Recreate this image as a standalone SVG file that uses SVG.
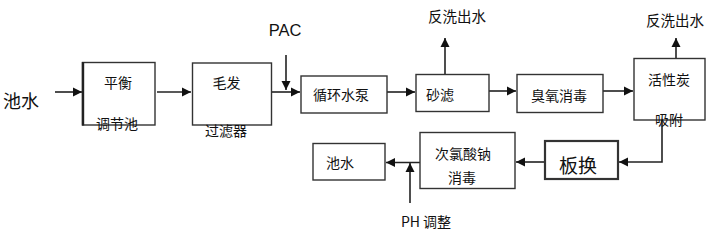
<svg xmlns="http://www.w3.org/2000/svg" width="711" height="230" viewBox="0 0 711 230">
<style>
.box{fill:#fff;stroke:#333;stroke-width:1.4}
.t{font-family:"Noto Sans CJK SC","Noto Sans",sans-serif;font-size:14px;fill:#111;text-anchor:middle;dominant-baseline:central}
.c{fill:none;stroke:#222;stroke-width:1.6}
</style>
<defs>
<marker id="ah" markerUnits="userSpaceOnUse" markerWidth="10" markerHeight="10" refX="9" refY="5" orient="auto">
<path d="M0,0.5 L9,5 L0,9.5 z" fill="#111"/>
</marker>
</defs>
<rect width="711" height="230" fill="#fff"/>
<text class="t" x="21" y="100" style="font-size:18px">池水</text>
<text class="t" x="285" y="30" style="font-family:'Liberation Sans',Arial,sans-serif;font-size:16.5px">PAC</text>
<text class="t" x="457" y="15" style="font-size:14.5px">反洗出水</text>
<text class="t" x="675" y="19" style="font-size:14.5px">反洗出水</text>
<text class="t" x="426" y="221" style="font-size:14px">PH 调整</text>
<g id="connectors">
<path class="c" d="M55,92 L82,92" marker-end="url(#ah)"/>
<path class="c" d="M157,92 L191,92" marker-end="url(#ah)"/>
<path class="c" d="M272,92 L300,92" marker-end="url(#ah)"/>
<path class="c" d="M286,55 L286,90" marker-end="url(#ah)"/>
<path class="c" d="M387,92 L415,92" marker-end="url(#ah)"/>
<path class="c" d="M445,74 L445,38" marker-end="url(#ah)"/>
<path class="c" d="M489,91 L516,91" marker-end="url(#ah)"/>
<path class="c" d="M603,91 L633,91" marker-end="url(#ah)"/>
<path class="c" d="M676,58 L676,38" marker-end="url(#ah)"/>
<path class="c" d="M662,120 L662,162 L619,162" marker-end="url(#ah)"/>
<path class="c" d="M545,162 L516,162" marker-end="url(#ah)"/>
<path class="c" d="M420,162.5 L386,162.5" marker-end="url(#ah)"/>
<path class="c" d="M410,203 L410,163" marker-end="url(#ah)"/>
</g>
<g id="n1">
<rect class="box" x="82.5" y="62.5" width="72.5" height="62.5"/>
<line x1="83" y1="62" x2="83" y2="125.5" stroke="#222" stroke-width="2.4"/>
<text class="t" x="118" y="82">平衡</text>
<text class="t" x="117" y="122.5">调节池</text>
</g>
<g id="n2">
<rect class="box" x="192.5" y="63" width="79" height="62"/>
<text class="t" x="226.5" y="82">毛发</text>
<text class="t" x="226" y="129.5">过滤器</text>
</g>
<g id="n3">
<rect class="box" x="301" y="76" width="86" height="37"/>
<text class="t" x="341" y="94">循环水泵</text>
</g>
<g id="n4">
<rect class="box" x="416" y="74.5" width="73" height="37"/>
<text class="t" x="440" y="94">砂滤</text>
</g>
<g id="n5">
<rect class="box" x="517" y="74.5" width="86" height="38"/>
<text class="t" x="559" y="95">臭氧消毒</text>
</g>
<g id="n6">
<rect class="box" x="634" y="58.5" width="71" height="61.5"/>
<text class="t" x="669" y="79">活性炭</text>
<text class="t" x="669" y="119">吸附</text>
</g>
<g id="n7">
<rect class="box" x="545" y="141" width="73" height="38" style="stroke-width:2.2"/>
<text class="t" x="578" y="164" style="font-size:19px">板换</text>
</g>
<g id="n8">
<rect class="box" x="420" y="132.5" width="95" height="56"/>
<text class="t" x="463" y="153">次氯酸钠</text>
<text class="t" x="462" y="177">消毒</text>
</g>
<g id="n9">
<rect class="box" x="313" y="143.5" width="72" height="36.5"/>
<text class="t" x="340" y="162">池水</text>
</g>
</svg>
